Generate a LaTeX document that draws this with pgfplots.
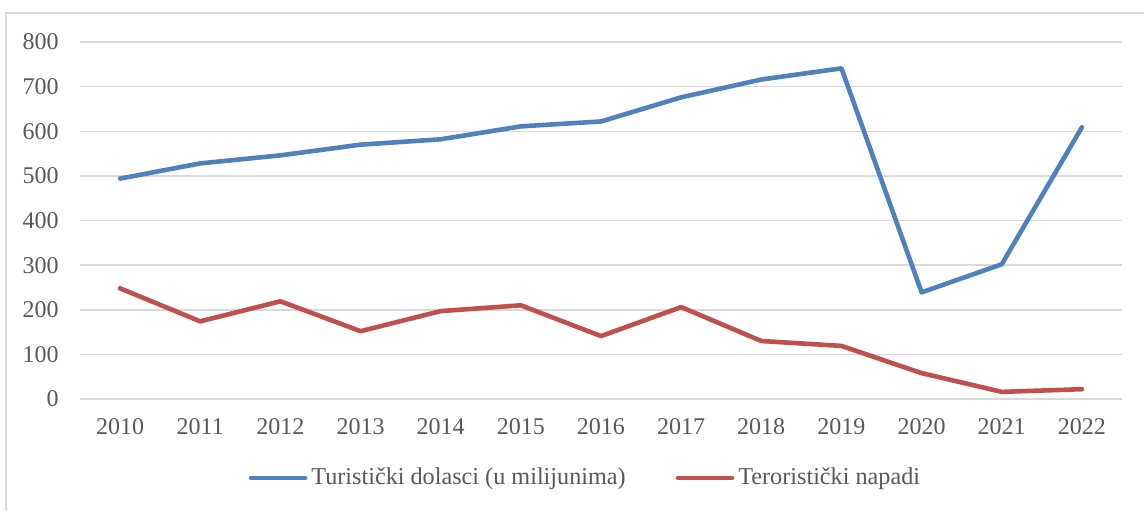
\documentclass[border=0pt]{standalone}
\usepackage{pgfplots}
\pgfplotsset{compat=1.18}
\usepackage{fontspec}
\setmainfont{Liberation Serif}
\definecolor{sblue}{HTML}{4F81BD}
\definecolor{sred}{HTML}{C0504D}
\definecolor{gridc}{HTML}{D9D9D9}
\definecolor{txt}{HTML}{595959}
\begin{document}
\begin{tikzpicture}
\useasboundingbox (0pt,0pt) rectangle (572pt,255.5pt);
\draw[gridc, line width=0.75pt] (3pt,0pt) -- (3pt,249pt) -- (572pt,249pt);
\begin{axis}[
  at={(40pt,56pt)}, anchor=origin,
  scale only axis, width=521pt, height=178.5pt,
  xmin=2009.5, xmax=2022.5, ymin=0, ymax=800,
  xtick={2010,...,2022}, ytick={0,100,...,800},
  axis line style={draw=none}, tick style={draw=none},
  ymajorgrids, grid style={gridc, line width=0.75pt},
  /pgf/number format/assume math mode=true,
  /pgf/number format/set thousands separator={},
  ticklabel style={font=\fontsize{12}{14}\selectfont, text=txt},
  yticklabel style={inner sep=0pt, anchor=east, xshift=-10.5pt},
  xticklabel style={inner sep=0pt, anchor=north, yshift=-9.5pt},
  legend columns=2,
  legend style={draw=none, at={(0.486,-0.221)}, anchor=center,
    font=\fontsize{12.1}{14}\selectfont, text=txt, inner sep=0pt,
    /tikz/every even column/.append style={column sep=23pt}},
  legend cell align=left,
  legend image code/.code={\draw[#1, line cap=round] (0pt,0pt) -- (27pt,0pt);},
]
\addplot[sblue, line width=2.3pt, line cap=round, line join=round] coordinates {
(2010,494) (2011,528) (2012,546) (2013,570) (2014,582) (2015,611) (2016,622)
(2017,676) (2018,716) (2019,741) (2020,239) (2021,302) (2022,609)};
\addlegendentry{Turistički dolasci (u milijunima)}
\addplot[sred, line width=2.3pt, line cap=round, line join=round] coordinates {
(2010,248) (2011,174) (2012,219) (2013,152) (2014,197) (2015,210) (2016,141)
(2017,206) (2018,130) (2019,119) (2020,58) (2021,16) (2022,22)};
\addlegendentry{Teroristički napadi}
\end{axis}
\end{tikzpicture}
\end{document}
